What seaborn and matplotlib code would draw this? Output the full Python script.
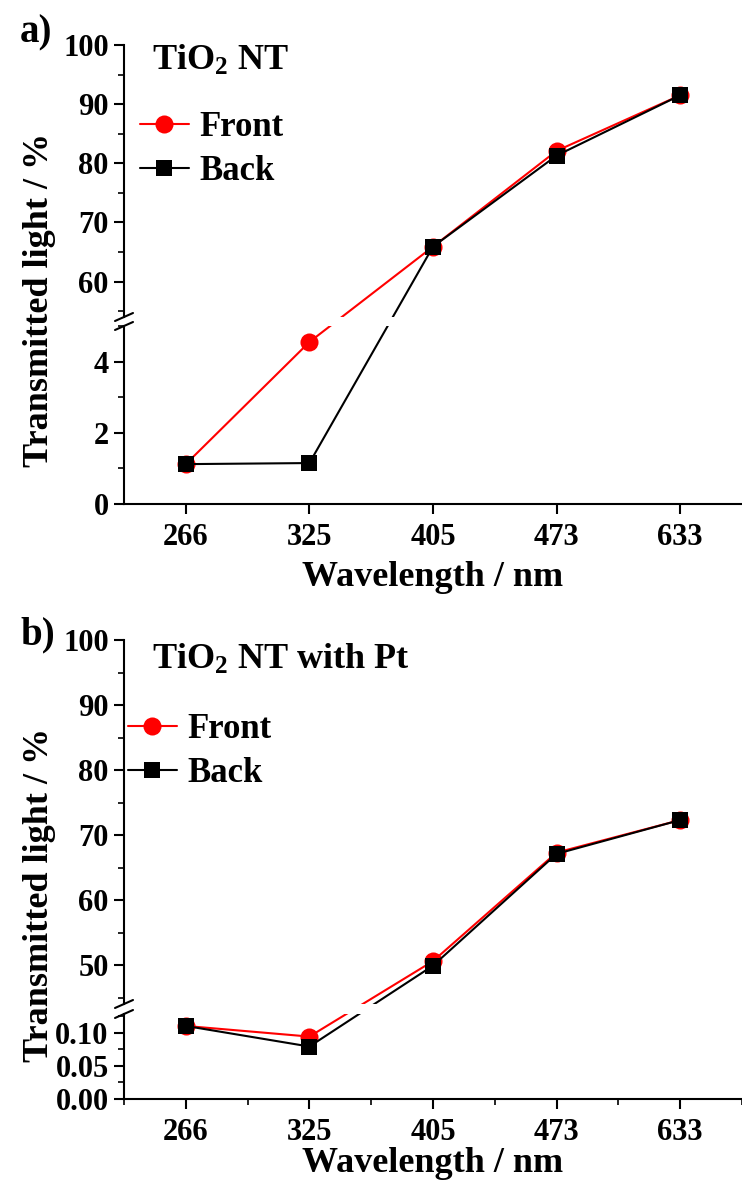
import numpy as np
import pandas as pd
import seaborn as sns
import matplotlib
matplotlib.use("Agg")
import matplotlib.pyplot as plt
from matplotlib.ticker import MultipleLocator, FormatStrFormatter
from matplotlib.lines import Line2D

# ---------------- data ----------------
wavelengths = ["266", "325", "405", "473", "633"]
front_a = [1.12, 4.55, 65.9, 82.1, 91.5]
back_a = [1.12, 1.15, 65.9, 81.3, 91.5]
front_b = [0.110, 0.094, 50.6, 67.3, 72.3]
back_b = [0.110, 0.079, 49.9, 67.1, 72.3]
series_labels = ["Front", "Back"]
titles = ["TiO$_\\mathbf{2}$ NT", "TiO$_\\mathbf{2}$ NT with Pt"]
tags = ["a)", "b)"]
xlabel = "Wavelength / nm"
ylabel = "Transmitted light / %"

# ---------------- style ----------------
sns.set_theme(style="ticks")
plt.rcParams.update({
    "font.family": ["Liberation Serif", "DejaVu Serif"],
    "font.weight": "bold",
    "axes.labelweight": "bold",
    "text.color": "black",
    "axes.labelcolor": "black",
    "mathtext.fontset": "custom",
    "mathtext.rm": "Liberation Serif:bold",
    "mathtext.bf": "Liberation Serif:bold",
    "mathtext.it": "Liberation Serif:bold",
    "axes.linewidth": 1.5,
    "axes.edgecolor": "black",
    "xtick.color": "black",
    "ytick.color": "black",
    "xtick.labelcolor": "black",
    "ytick.labelcolor": "black",
    "xtick.major.width": 1.5,
    "ytick.major.width": 1.5,
    "xtick.minor.width": 1.2,
    "ytick.minor.width": 1.2,
})

W, H = 742, 1187
fig = plt.figure(figsize=(W / 100, H / 100), dpi=100)


def box(top_px, bot_px, left_px=124, right_px=742):
    return [left_px / W, 1 - bot_px / H, (right_px - left_px) / W, (bot_px - top_px) / H]


panels = [
    dict(up=(45, 317), lo=(326, 504), uplim=(54, 100), lolim=(0, 5.0),
         lomaj=2, lomin=1, lofmt="%d", front=front_a, back=back_a, xminor=False,
         title_y=61, tag_y=33, leg_x=140, leg_y=149.5, ylab_y=300, xlab_y=578),
    dict(up=(640, 1004), lo=(1014, 1099), uplim=(44, 100), lolim=(0, 0.128),
         lomaj=0.05, lomin=0.025, lofmt="%.2f", front=front_b, back=back_b, xminor=True,
         title_y=660, tag_y=635, leg_x=128, leg_y=751.5, ylab_y=895, xlab_y=1163),
]

xpos = np.arange(len(wavelengths))
styles = [dict(color="red", marker="o", markersize=13, zorder=3),
          dict(color="black", marker="s", markersize=12, zorder=4)]

for i, p in enumerate(panels):
    ax_hi = fig.add_axes(box(*p["up"]))
    ax_lo = fig.add_axes(box(*p["lo"]))
    for ax in (ax_hi, ax_lo):
        ax.set_xlim(-0.5, 4.5)
        ax.set_facecolor("none")
        ax.spines["top"].set_visible(False)
        ax.spines["right"].set_visible(False)
    ax_hi.set_ylim(*p["uplim"])
    ax_lo.set_ylim(*p["lolim"])
    ax_hi.spines["bottom"].set_visible(False)
    ax_hi.tick_params(axis="x", which="both", bottom=False, labelbottom=False)

    # y ticks
    ax_hi.yaxis.set_major_locator(MultipleLocator(10))
    ax_hi.yaxis.set_minor_locator(MultipleLocator(5))
    ax_lo.yaxis.set_major_locator(MultipleLocator(p["lomaj"]))
    ax_lo.yaxis.set_minor_locator(MultipleLocator(p["lomin"]))
    ax_lo.yaxis.set_major_formatter(FormatStrFormatter(p["lofmt"]))
    for ax in (ax_hi, ax_lo):
        ax.tick_params(axis="y", which="major", length=7, pad=4, labelsize=22)
        ax.tick_params(axis="y", which="minor", length=4)
    # x ticks
    ax_lo.set_xticks(xpos)
    ax_lo.set_xticklabels(wavelengths)
    if p["xminor"]:
        ax_lo.xaxis.set_minor_locator(MultipleLocator(0.5))
    ax_lo.tick_params(axis="x", which="major", length=7, pad=7, labelsize=22)
    ax_lo.tick_params(axis="x", which="minor", length=4)
    for lab in ax_lo.get_xticklabels() + ax_lo.get_yticklabels() + ax_hi.get_yticklabels():
        lab.set_fontweight("bold")

    # data
    for vals, st in zip((p["front"], p["back"]), styles):
        vals = np.asarray(vals, dtype=float)
        lo_mask = vals <= p["lolim"][1]
        hi_mask = ~lo_mask
        for ax, m in ((ax_lo, lo_mask), (ax_hi, hi_mask)):
            sns.lineplot(x=xpos[m], y=vals[m], ax=ax, color=st["color"],
                         marker=st["marker"], markersize=st["markersize"],
                         markeredgecolor=st["color"], markeredgewidth=0,
                         linewidth=1.5, zorder=st["zorder"], sort=False)
        # bridge segments crossing the break, straight in display space
        for k in range(len(vals) - 1):
            if lo_mask[k] and hi_mask[k + 1]:
                p0 = ax_lo.transData.transform((xpos[k], vals[k]))
                p1 = ax_hi.transData.transform((xpos[k + 1], vals[k + 1]))
                for ax in (ax_lo, ax_hi):
                    inv = ax.transData.inverted()
                    q0, q1 = inv.transform(p0), inv.transform(p1)
                    ax.plot([q0[0], q1[0]], [q0[1], q1[1]], color=st["color"],
                            linewidth=1.5, zorder=st["zorder"] - 0.5,
                            scalex=False, scaley=False)
    for ax in (ax_hi, ax_lo):
        ax.set_xlim(-0.5, 4.5)
    ax_hi.set_ylim(*p["uplim"])
    ax_lo.set_ylim(*p["lolim"])
    ax_hi.set_ylabel("")
    ax_lo.set_ylabel("")

    # break marks
    for ax, yy in ((ax_hi, 0), (ax_lo, 1)):
        bb = ax.get_position()
        dx = 9 / (bb.width * W)
        dy = 4 / (bb.height * H)
        ax.plot([-dx, dx], [yy - dy, yy + dy], transform=ax.transAxes,
                color="black", linewidth=1.5, clip_on=False)

    # x label
    fig.text(433 / W, 1 - p["xlab_y"] / H, xlabel, ha="center", va="center",
             fontsize=26, fontweight="bold")
    # y label
    fig.text(40 / W, 1 - p["ylab_y"] / H, ylabel, ha="center", va="center",
             rotation=90, fontsize=26, fontweight="bold")
    # title
    fig.text(152 / W, 1 - p["title_y"] / H, titles[i], ha="left", va="center",
             fontsize=26, fontweight="bold")
    # tag
    fig.text(20 / W, 1 - p["tag_y"] / H, tags[i], ha="left", va="center",
             fontsize=28, fontweight="bold")
    # legend
    handles = [Line2D([], [], color=st["color"], marker=st["marker"],
                      markersize=st["markersize"], markeredgewidth=0, linewidth=1.5)
               for st in styles]
    fig.legend(handles, series_labels, loc="center left",
               bbox_to_anchor=(p["leg_x"] / W, 1 - p["leg_y"] / H),
               frameon=False, borderpad=0, borderaxespad=0, handlelength=1.4,
               handletextpad=0.3, labelspacing=0.3,
               prop=dict(size=25, weight="bold"))

fig.savefig("out.png", dpi=100)
